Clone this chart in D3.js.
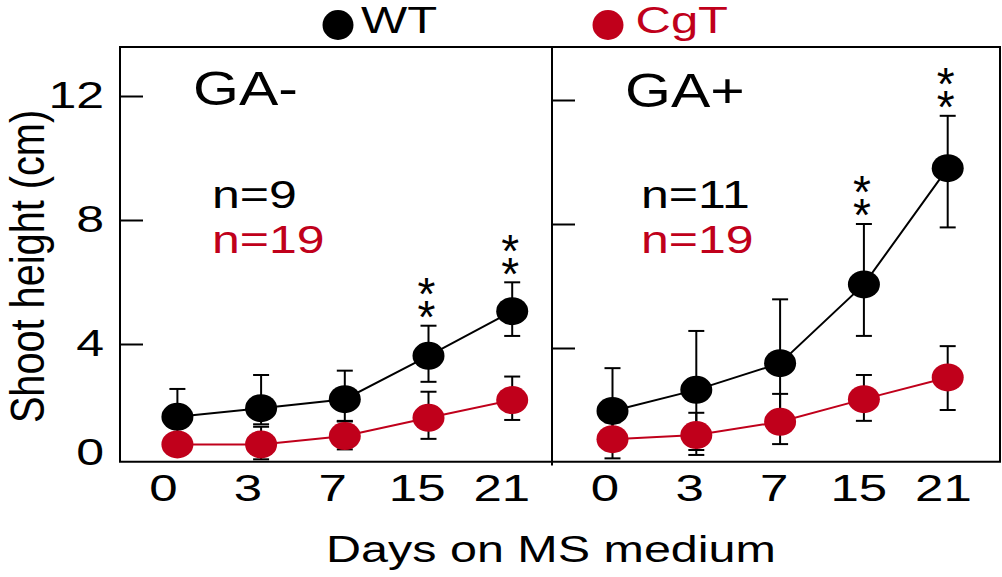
<!DOCTYPE html>
<html><head><meta charset="utf-8">
<script src="https://cdn.jsdelivr.net/npm/d3@7"></script>
<style>html,body{margin:0;padding:0;background:#fff}</style>
</head><body><svg id="c" width="1002" height="577"></svg>
<script>
// ---------- data ----------
const days = ["0", "3", "7", "15", "21"];
const yTickValues = [4, 8, 12];
const yLabelValues = [0, 4, 8, 12];
const seriesNames = ["WT", "CgT"];
const panelNames = ["GA-", "GA+"];
const nWT = ["n=9", "n=11"];
const nCgT = ["n=19", "n=19"];
const xTitle = "Days on MS medium";
const yTitle = "Shoot height (cm)";

// GA- panel
const wtMeanGAm = [1.65, 1.93, 2.22, 3.62, 5.06];
const wtHiGAm   = [2.55, 3.00, 3.14, 4.59, 5.99];
const wtLoGAm   = [0.75, 1.41, 1.52, 2.78, 4.26];
const cgMeanGAm = [0.76, 0.76, 1.03, 1.62, 2.19];
const cgHiGAm   = [1.10, 1.33, 1.50, 2.46, 2.95];
const cgLoGAm   = [0.42, 0.28, 0.60, 0.94, 1.55];
const starsGAm  = [0, 0, 0, 2, 2];

// GA+ panel
const wtMeanGAp = [1.97, 2.65, 3.51, 6.05, 9.80];
const wtHiGAp   = [3.35, 4.55, 5.57, 8.00, 11.49];
const wtLoGAp   = [0.70, 0.71, 1.45, 4.39, 7.89];
const cgMeanGAp = [1.06, 1.19, 1.62, 2.35, 3.05];
const cgHiGAp   = [1.60, 1.91, 2.52, 3.13, 4.06];
const cgLoGAp   = [0.44, 0.55, 0.90, 1.65, 2.00];
const starsGAp  = [0, 0, 0, 2, 2];

// ---------- drawing ----------
(function () {
const RED = "#c0001b";
const FONT = "'Liberation Sans', Arial, Helvetica, sans-serif";
const svg = d3.select("#c");

function txt(s, x, y, size, k, anchor, fill) {
  return svg.append("text")
    .attr("transform", `translate(${x},${y}) scale(1,${k})`)
    .attr("font-family", FONT).attr("font-size", size)
    .attr("text-anchor", anchor || "start")
    .attr("fill", fill || "#000").text(s);
}

const frameTop = 47, frameBottom = 461.7, leftX = 120, rightX = 1000, divX = 552;

// frame
const frame = svg.append("g").attr("stroke", "#000").attr("stroke-width", 2).attr("fill", "none");
frame.append("line").attr("x1", leftX - 1).attr("x2", rightX + 1).attr("y1", frameTop).attr("y2", frameTop);
frame.append("line").attr("x1", leftX - 1).attr("x2", rightX + 1).attr("y1", frameBottom).attr("y2", frameBottom);
frame.append("line").attr("x1", leftX).attr("x2", leftX).attr("y1", frameTop).attr("y2", frameBottom);
frame.append("line").attr("x1", rightX).attr("x2", rightX).attr("y1", frameTop).attr("y2", frameBottom);
frame.append("line").attr("x1", divX).attr("x2", divX).attr("y1", frameTop).attr("y2", 465.5);

const panels = [
  { name: panelNames[0], x0: leftX, yRange: [468, 96], ptRange: [177.4, 512.2], lblRange: [163.4, 501.8],
    series: [
      { m: wtMeanGAm, hi: wtHiGAm, lo: wtLoGAm, color: "#000" },
      { m: cgMeanGAm, hi: cgHiGAm, lo: cgLoGAm, color: RED }],
    stars: starsGAm, nW: nWT[0], nC: nCgT[0], nameX: 193, nameY: 105, nX: 212, showLabels: true },
  { name: panelNames[1], x0: divX, yRange: [472, 100], ptRange: [612.5, 947.7], lblRange: [605, 943.4],
    series: [
      { m: wtMeanGAp, hi: wtHiGAp, lo: wtLoGAp, color: "#000" },
      { m: cgMeanGAp, hi: cgHiGAp, lo: cgLoGAp, color: RED }],
    stars: starsGAp, nW: nWT[1], nC: nCgT[1], nameX: 625, nameY: 107.3, nX: 641, showLabels: false }
];

panels.forEach(p => {
  const y = d3.scaleLinear().domain([0, 12]).range(p.yRange);
  const x = d3.scalePoint().domain(days).range(p.ptRange);
  const xl = d3.scalePoint().domain(days).range(p.lblRange);

  // inner y ticks
  const ax = svg.append("g").attr("transform", `translate(${p.x0},0)`)
    .call(d3.axisRight(y).tickValues(yTickValues).tickSize(23).tickFormat(""));
  ax.select(".domain").remove();
  ax.selectAll("line").attr("stroke", "#000").attr("stroke-width", 2);

  if (p.showLabels) {
    const F = 50, k = 0.75, capH = 0.716 * F * k;
    yLabelValues.forEach(v => {
      txt(String(v), 104, y(v) + capH / 2 - 1 - (v === 0 ? 15 : 0), F, k, "end");
    });
  }

  // x labels
  days.forEach(d => txt(d, xl(d), 501, 51, 0.73, "middle"));

  // error bars
  const cap = 8;
  p.series.forEach(s => {
    const g = svg.append("g").attr("stroke", "#000").attr("stroke-width", 2);
    days.forEach((d, i) => {
      const cx = x(d);
      g.append("line").attr("x1", cx).attr("x2", cx).attr("y1", y(s.hi[i])).attr("y2", y(s.lo[i]));
      g.append("line").attr("x1", cx - cap).attr("x2", cx + cap).attr("y1", y(s.hi[i])).attr("y2", y(s.hi[i]));
      g.append("line").attr("x1", cx - cap).attr("x2", cx + cap).attr("y1", y(s.lo[i])).attr("y2", y(s.lo[i]));
    });
  });

  // lines
  const line = d3.line().x((v, i) => x(days[i])).y(v => y(v));
  p.series.forEach(s => {
    svg.append("path").attr("d", line(s.m)).attr("fill", "none")
      .attr("stroke", s.color).attr("stroke-width", 2);
  });

  // markers
  p.series.forEach(s => {
    svg.append("g").selectAll("ellipse").data(s.m).join("ellipse")
      .attr("cx", (v, i) => x(days[i])).attr("cy", v => y(v))
      .attr("rx", 16).attr("ry", 14).attr("fill", s.color);
  });

  // significance stars: one text running downward, each glyph turned upright
  const SF = 46, gap = 23, adv = 0.389 * SF;
  p.stars.forEach((n, i) => {
    if (!n) return;
    const topCy = y(p.series[0].hi[i]) - 19 - gap * (n - 1);
    const cx = x(days[i]) - 2;
    svg.append("text")
      .attr("transform", `translate(${cx - adv / 2},${topCy + 0.575 * SF}) rotate(90)`)
      .attr("rotate", d3.range(n).map(() => -90).join(" "))
      .attr("letter-spacing", gap - adv)
      .attr("font-family", FONT).attr("font-size", SF).attr("fill", "#000")
      .text("*".repeat(n));
  });

  // panel texts
  txt(p.name, p.nameX, p.nameY, 59, 0.83, "start");
  txt(p.nW, p.nX, 208, 50, 0.78, "start");
  txt(p.nC, p.nX, 253, 50, 0.78, "start", RED);
});

// legend
svg.append("ellipse").attr("cx", 338).attr("cy", 25).attr("rx", 15.5).attr("ry", 15).attr("fill", "#000");
txt(seriesNames[0], 361, 33.3, 49, 0.77, "start");
svg.append("ellipse").attr("cx", 608).attr("cy", 25).attr("rx", 15.5).attr("ry", 15).attr("fill", RED);
txt(seriesNames[1], 635.5, 33.3, 49, 0.77, "start", RED);

// axis titles
txt(xTitle, 326, 561.7, 48.5, 0.77, "start");
svg.append("text")
  .attr("transform", "translate(43.5,266.5) scale(1,0.827) rotate(-90)")
  .attr("font-family", FONT).attr("font-size", 48).attr("text-anchor", "middle")
  .attr("fill", "#000").text(yTitle);
})();
</script>
</body></html>
